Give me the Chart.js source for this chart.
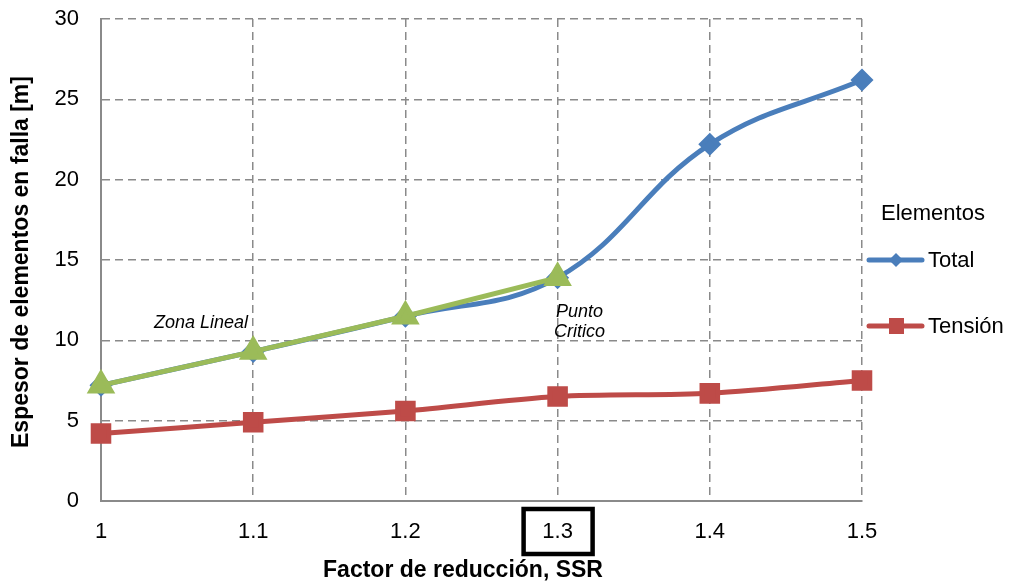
<!DOCTYPE html>
<html>
<head>
<meta charset="utf-8">
<script src="https://cdn.jsdelivr.net/npm/chart.js@4.4.0/dist/chart.umd.min.js"></script>
<style>
  html, body { margin: 0; padding: 0; background: #fff; }
  #wrap { width: 1017px; height: 581px; position: relative; }
</style>
</head>
<body>
<div id="wrap"><canvas id="c" width="1017" height="581"></canvas></div>
<script>
// Factor de reducción (SSR) vs. espesor de elementos en falla
const ssr = [1, 1.1, 1.2, 1.3, 1.4, 1.5];
const total = [7.2, 9.3, 11.5, 13.9, 22.2, 26.2];
const tension = [4.2, 4.9, 5.6, 6.5, 6.7, 7.5];
const linealSsr = [1, 1.1, 1.2, 1.3];
const linealVals = [7.2, 9.3, 11.5, 13.9];
const xTicks = [1, 1.1, 1.2, 1.3, 1.4, 1.5];
const yTicks = [0, 5, 10, 15, 20, 25, 30];
const criticalSsr = 1.3;

const FONT = '"Liberation Sans", Arial, sans-serif';
const BLUE = '#4A7EBB', RED = '#BE4B48', GREEN = '#9BBB59';
const GRID = '#8a8a8a';

const pts = (xs, ys) => xs.map((x, i) => ({ x, y: ys[i] }));

// annotations, legend, axis titles and the boxed critical tick
const extras = {
  id: 'extras',
  afterDraw(chart) {
    const { ctx, scales: { x } } = chart;
    ctx.save();
    ctx.fillStyle = '#000';
    ctx.textBaseline = 'middle';

    // annotations
    ctx.font = 'italic 18px ' + FONT;
    ctx.textAlign = 'center';
    ctx.fillText('Zona Lineal', 201, 323);
    ctx.textAlign = 'left';
    ctx.fillText('Punto', 556, 312);
    ctx.fillText('Critico', 554, 332);

    // box around critical SSR tick
    const cx = x.getPixelForValue(criticalSsr);
    ctx.strokeStyle = '#000';
    ctx.lineWidth = 4.5;
    ctx.strokeRect(cx - 34, 509, 69, 45);

    // axis titles
    ctx.font = 'bold 23px ' + FONT;
    ctx.textAlign = 'center';
    ctx.fillText('Factor de reducción, SSR', 463, 571);
    ctx.save();
    ctx.translate(22, 262);
    ctx.rotate(-Math.PI / 2);
    ctx.fillText('Espesor de elementos en falla [m]', 0, 0);
    ctx.restore();

    // legend
    ctx.font = '22px ' + FONT;
    ctx.textAlign = 'left';
    ctx.fillText('Elementos', 881, 214);
    const items = [
      { label: 'Total', color: BLUE, diamond: true, yy: 260 },
      { label: 'Tensión', color: RED, diamond: false, yy: 326 }
    ];
    items.forEach(it => {
      ctx.strokeStyle = it.color;
      ctx.lineWidth = 5;
      ctx.lineCap = 'round';
      ctx.beginPath();
      ctx.moveTo(869, it.yy);
      ctx.lineTo(922, it.yy);
      ctx.stroke();
      ctx.fillStyle = it.color;
      ctx.beginPath();
      if (it.diamond) {
        const r = 7;
        ctx.moveTo(896, it.yy - r);
        ctx.lineTo(896 + r, it.yy);
        ctx.lineTo(896, it.yy + r);
        ctx.lineTo(896 - r, it.yy);
        ctx.closePath();
        ctx.fill();
      } else {
        ctx.fillRect(889, it.yy - 8, 15, 16);
      }
      ctx.fillStyle = '#000';
      ctx.fillText(it.label, 928, it.yy + 1);
    });
    ctx.restore();
  }
};

new Chart(document.getElementById('c'), {
  type: 'line',
  data: {
    datasets: [
      {
        label: 'Total', data: pts(ssr, total),
        borderColor: BLUE, backgroundColor: BLUE, borderWidth: 5,
        pointStyle: 'rectRot', pointRadius: 8, tension: 0.4, order: 2, clip: false
      },
      {
        label: 'Tensión', data: pts(ssr, tension),
        borderColor: RED, backgroundColor: RED, borderWidth: 5,
        pointStyle: 'rect', pointRadius: 11, tension: 0.3, order: 3, clip: false
      },
      {
        label: 'Zona Lineal', data: pts(linealSsr, linealVals),
        borderColor: GREEN, backgroundColor: GREEN, borderWidth: 5,
        pointStyle: 'triangle', pointRadius: 11.5, tension: 0, order: 1, clip: false
      }
    ]
  },
  options: {
    responsive: false,
    animation: false,
    layout: { padding: { left: 0, right: 155, top: 19, bottom: 0 } },
    plugins: { legend: { display: false }, tooltip: { enabled: false } },
    scales: {
      x: {
        type: 'linear', min: 1, max: 1.5,
        afterBuildTicks: s => { s.ticks = xTicks.map(v => ({ value: v })); },
        afterFit: s => { s.height = 80; },
        grid: { color: GRID, lineWidth: 1.5, drawTicks: false },
        border: { color: GRID, width: 2, dash: [8, 5] },
        ticks: { color: '#000', font: { family: FONT, size: 22 }, padding: 18,
                 autoSkip: false, maxRotation: 0,
                 callback: v => String(Math.round(v * 10) / 10) }
      },
      y: {
        min: 0, max: 30,
        afterBuildTicks: s => { s.ticks = yTicks.map(v => ({ value: v })); },
        afterFit: s => { s.width = 101; s.paddingTop = 0; s.paddingBottom = 0; },
        grid: { color: GRID, lineWidth: 1.5, drawTicks: false },
        border: { color: GRID, width: 2, dash: [8, 5] },
        ticks: { color: '#000', font: { family: FONT, size: 22, lineHeight: 0.1 }, padding: 22 }
      }
    }
  },
  plugins: [extras]
});
</script>
</body>
</html>
